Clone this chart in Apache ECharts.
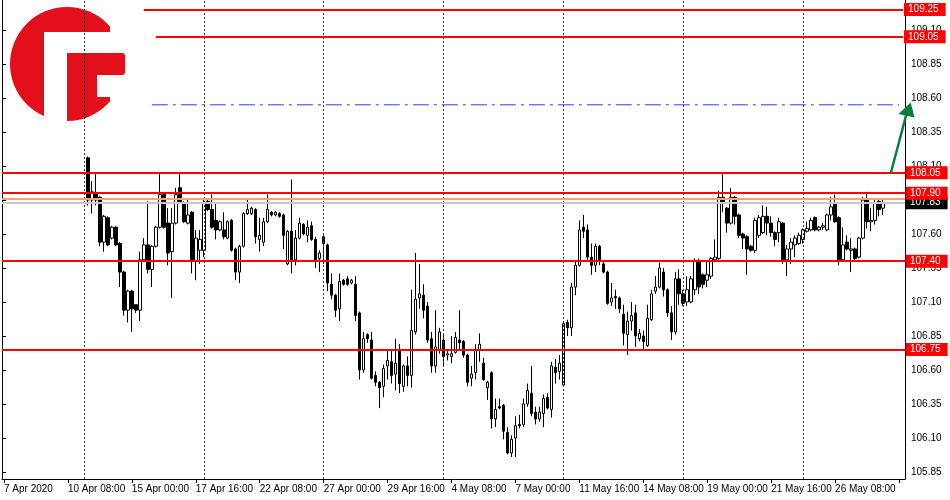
<!DOCTYPE html>
<html><head><meta charset="utf-8">
<script src="https://cdn.jsdelivr.net/npm/echarts@6/dist/echarts.min.js"></script>
<style>html,body{margin:0;padding:0;background:#fff}#c{width:950px;height:500px}</style>
</head><body><div id="c"></div>
<script>
// ---- data ----
const tickLabels = ['7 Apr 2020','10 Apr 08:00','15 Apr 00:00','17 Apr 16:00','22 Apr 08:00','27 Apr 00:00','29 Apr 16:00','4 May 08:00','7 May 00:00','11 May 16:00','14 May 08:00','19 May 00:00','21 May 16:00','26 May 08:00'];
const barsPerLabel = 16;
const barCount = 226;
const firstBar = 21;
const open = [108.16,107.85,107.90,107.87,107.54,107.72,107.57,107.65,107.53,107.32,
107.04,107.18,107.08,107.04,107.41,107.52,107.34,107.51,107.65,107.89,
107.68,107.47,107.68,107.94,107.83,107.68,107.76,107.40,107.48,107.48,
107.84,107.78,107.70,107.63,107.63,107.57,107.70,107.49,107.32,107.51,
107.75,107.75,107.78,107.56,107.54,107.69,107.76,107.74,107.75,107.74,
107.38,107.62,107.41,107.57,107.67,107.59,107.66,107.56,107.42,107.58,
107.52,107.23,107.15,107.05,107.26,107.27,107.24,107.23,107.02,106.60,
106.86,106.82,106.56,106.51,106.48,106.63,106.66,106.57,106.75,106.48,
106.63,106.56,106.88,107.13,107.15,107.07,106.83,106.63,106.75,106.82,
106.71,106.70,106.73,106.82,106.81,106.71,106.54,106.58,106.75,106.65,
106.47,106.58,106.24,106.33,106.34,106.14,105.99,106.10,106.20,106.20,
106.35,106.43,106.29,106.24,106.28,106.40,106.31,106.62,106.59,106.49,
106.95,106.91,107.21,107.37,107.65,107.63,107.43,107.37,107.51,107.38,
107.32,107.10,107.14,107.13,107.01,106.86,106.96,107.02,106.83,106.85,
106.78,106.97,107.18,107.21,107.32,107.19,107.02,106.88,107.27,107.16,
107.10,107.10,107.19,107.40,107.30,107.26,107.29,107.41,107.42,107.87,
107.79,107.68,107.87,107.74,107.60,107.58,107.51,107.48,107.59,107.61,
107.73,107.68,107.61,107.61,107.68,107.41,107.49,107.52,107.53,107.56,
107.62,107.63,107.72,107.63,107.65,107.63,107.74,107.83,107.72,107.41,
107.54,107.48,107.49,107.43,107.57,107.86,107.69,107.70,107.84,107.79];
const close = [107.85,107.91,107.85,107.54,107.73,107.52,107.65,107.52,107.32,107.04,
107.18,107.05,107.04,107.41,107.52,107.34,107.51,107.65,107.89,107.65,
107.46,107.68,107.89,107.83,107.69,107.74,107.40,107.57,107.56,107.83,
107.78,107.65,107.63,107.69,107.58,107.69,107.48,107.32,107.51,107.75,
107.78,107.79,107.58,107.59,107.69,107.78,107.74,107.76,107.73,107.59,
107.62,107.41,107.57,107.68,107.60,107.65,107.56,107.41,107.46,107.53,
107.24,107.15,107.04,107.25,107.23,107.23,107.26,107.00,106.60,106.83,
106.83,106.54,106.51,106.47,106.61,106.67,106.56,106.65,106.50,106.63,
106.56,106.89,107.12,107.16,107.04,106.82,106.63,106.77,106.88,106.70,
106.72,106.72,106.84,106.80,106.71,106.51,106.57,106.75,106.79,106.53,
106.51,106.24,106.31,106.32,106.15,105.99,106.09,106.19,106.19,106.35,
106.45,106.28,106.24,106.29,106.39,106.32,106.63,106.58,106.65,106.94,
106.91,107.21,107.37,107.63,107.62,107.43,107.37,107.51,107.40,107.32,
107.09,107.13,107.13,107.05,106.87,106.96,107.00,106.85,106.87,106.81,
106.98,107.16,107.21,107.35,107.19,107.02,106.88,107.27,107.16,107.09,
107.19,107.27,107.40,107.21,107.23,107.30,107.42,107.43,107.87,107.83,
107.68,107.87,107.73,107.59,107.57,107.49,107.48,107.70,107.72,107.73,
107.68,107.61,107.56,107.69,107.41,107.49,107.54,107.57,107.59,107.63,
107.64,107.70,107.63,107.65,107.66,107.74,107.80,107.69,107.41,107.52,
107.49,107.49,107.42,107.57,107.85,107.69,107.70,107.83,107.78,107.83];
const low = [107.81,107.75,107.81,107.51,107.47,107.51,107.56,107.51,107.21,107.00,
106.95,106.88,107.02,106.96,107.40,107.31,107.21,107.50,107.64,107.64,
107.37,107.13,107.67,107.82,107.68,107.67,107.31,107.26,107.38,107.43,
107.77,107.64,107.56,107.62,107.56,107.56,107.47,107.26,107.24,107.50,
107.74,107.74,107.53,107.47,107.51,107.68,107.73,107.73,107.72,107.49,
107.37,107.31,107.37,107.56,107.59,107.54,107.55,107.35,107.32,107.38,
107.18,107.12,106.99,106.96,107.22,107.22,107.23,106.96,106.53,106.58,
106.80,106.53,106.48,106.32,106.40,106.53,106.50,106.45,106.43,106.44,
106.48,106.47,106.86,107.05,106.98,106.80,106.58,106.58,106.72,106.63,
106.67,106.65,106.72,106.75,106.69,106.48,106.48,106.53,106.66,106.52,
106.38,106.17,106.18,106.31,106.09,105.98,105.96,105.96,106.17,106.18,
106.33,106.26,106.20,106.22,106.18,106.31,106.25,106.50,106.53,106.49,
106.85,106.85,107.15,107.36,107.57,107.41,107.30,107.32,107.37,107.31,
107.08,107.07,107.05,107.02,106.78,106.71,106.89,106.77,106.81,106.74,
106.77,106.96,107.16,107.20,107.14,106.99,106.82,106.86,107.08,107.07,
107.07,107.09,107.15,107.16,107.20,107.21,107.27,107.40,107.41,107.76,
107.61,107.67,107.67,107.57,107.49,107.30,107.47,107.46,107.57,107.60,
107.59,107.58,107.51,107.54,107.38,107.29,107.38,107.43,107.52,107.53,
107.61,107.62,107.62,107.62,107.63,107.62,107.70,107.68,107.37,107.40,
107.48,107.32,107.41,107.42,107.56,107.64,107.62,107.67,107.73,107.74];
const high = [108.17,107.99,108.04,107.88,107.74,107.73,107.66,107.66,107.54,107.33,
107.19,107.19,107.08,107.47,107.57,107.84,107.52,107.66,108.04,107.90,
107.79,107.79,107.94,108.04,107.84,107.85,107.77,107.63,107.63,107.85,
107.85,107.89,107.83,107.70,107.76,107.70,107.71,107.50,107.52,107.76,
107.86,107.80,107.79,107.72,107.72,107.89,107.77,107.77,107.76,107.75,
107.63,108.00,107.63,107.72,107.68,107.70,107.69,107.58,107.48,107.59,
107.53,107.31,107.16,107.31,107.27,107.29,107.27,107.29,107.03,106.88,
106.87,106.88,106.59,106.52,106.64,106.74,106.74,106.83,106.79,106.64,
106.70,107.19,107.46,107.38,107.23,107.10,106.88,107.04,106.91,106.86,
106.75,106.85,106.88,107.04,106.82,106.72,106.63,106.79,106.87,106.69,
106.52,106.59,106.39,106.39,106.35,106.18,106.12,106.26,106.27,106.39,
106.50,106.63,106.33,106.33,106.42,106.43,106.66,106.68,106.71,106.96,
106.97,107.24,107.40,107.70,107.74,107.67,107.53,107.53,107.52,107.40,
107.33,107.24,107.19,107.14,107.08,107.03,107.10,107.08,106.90,106.89,
107.08,107.19,107.29,107.39,107.35,107.20,107.07,107.32,107.34,107.19,
107.29,107.29,107.42,107.42,107.31,107.40,107.43,107.56,107.92,108.04,
107.80,107.94,107.88,107.75,107.61,107.59,107.52,107.72,107.74,107.81,
107.80,107.73,107.62,107.72,107.69,107.52,107.57,107.59,107.61,107.64,
107.69,107.72,107.73,107.66,107.68,107.75,107.87,107.89,107.73,107.65,
107.59,107.57,107.50,107.58,107.87,107.91,107.79,107.85,107.85,107.85];
const levels = [109.25, 109.05, 108.05, 107.90, 107.40, 106.75];
const levelStartBar = [35, 38, null, null, null, null];
const askPrice = 107.855;
const lastPrice = 107.83;
const targetPrice = 108.55;
const targetBars = [37, 224];
const gridBars = [20, 50, 80, 110, 140, 170, 200];
const yFirstTick = 105.85, yTickStep = 0.25;
const yMin = 105.7985, yMax = 109.3206;

// ---- build ----
const FONT = 'Liberation Sans';
const categories = Array.from({length: barCount}, (_, i) => i);
const candles = categories.map(i => {
  const j = i - firstBar;
  return (j >= 0 && j < open.length) ? [open[j], close[j], low[j], high[j]] : '-';
});
const tag = (txt, bg) => ({show: true, position: 'end', distance: 1, formatter: txt, color: '#fff',
  backgroundColor: bg, padding: [2, 7, 1, 4], fontSize: 10, fontFamily: FONT, lineHeight: 10});
const redStyle = {color: '#ff0000', width: 2, type: 'solid'};
const mlData = [];
gridBars.forEach(b => mlData.push({xAxis: b, lineStyle: {color: '#333', width: 1, type: [2, 2]}, label: {show: false}}));
mlData.push({yAxis: lastPrice, lineStyle: {color: '#c8c8c8', width: 2, type: 'solid'}, label: tag(lastPrice.toFixed(2), '#000')});
mlData.push({yAxis: askPrice, lineStyle: {color: '#f7a072', width: 2, type: 'solid'}, label: {show: false}});
levels.forEach((v, i) => {
  if (levelStartBar[i] === null) {
    mlData.push({yAxis: v, lineStyle: redStyle, label: tag(v.toFixed(2), '#ff0000')});
  } else {
    mlData.push([{coord: [levelStartBar[i], v], lineStyle: redStyle, label: tag(v.toFixed(2), '#ff0000')},
                 {coord: [barCount - 1, v], lineStyle: redStyle, label: tag(v.toFixed(2), '#ff0000')}]);
  }
});

const chart = echarts.init(document.getElementById('c'), null, {renderer: 'canvas'});
chart.setOption({
  animation: false,
  backgroundColor: '#fff',
  grid: [
    {left: 2, right: 45, top: 0, bottom: 21},
    {left: 2, right: 45, top: 0, bottom: 28}
  ],
  xAxis: [
    {type: 'category', gridIndex: 0, data: categories, boundaryGap: true,
     axisLine: {show: true, lineStyle: {color: '#000', width: 1}},
     axisTick: {show: true, alignWithLabel: true, interval: barsPerLabel - 1, length: 4, lineStyle: {color: '#000'}},
     axisLabel: {interval: barsPerLabel - 1, align: 'left', margin: 5, fontSize: 10, fontFamily: FONT, color: '#000',
       formatter: (v, idx) => (idx % barsPerLabel === 0 && tickLabels[idx / barsPerLabel]) ? tickLabels[idx / barsPerLabel] : ''},
     splitLine: {show: false}},
    {type: 'value', gridIndex: 1, show: false, min: 0, max: 1}
  ],
  yAxis: [
    {type: 'value', gridIndex: 0, position: 'right', min: yMin, max: yMax,
     axisLine: {show: true, lineStyle: {color: '#000', width: 1}}, axisTick: {show: false},
     axisLabel: {show: false}, splitLine: {show: false}},
    {type: 'value', gridIndex: 0, position: 'left', min: yMin, max: yMax,
     axisLine: {show: true, lineStyle: {color: '#000', width: 1}}, axisTick: {show: false},
     axisLabel: {show: false}, splitLine: {show: false}},
    {type: 'value', gridIndex: 1, position: 'right', min: 0, max: yMax - yFirstTick, interval: yTickStep,
     axisLine: {show: false}, axisTick: {show: true, length: 4, lineStyle: {color: '#000'}},
     axisLabel: {margin: 6, fontSize: 10, fontFamily: FONT, color: '#000', showMaxLabel: false,
       formatter: v => (v + yFirstTick).toFixed(2)},
     splitLine: {show: false}}
  ],
  series: [{
    type: 'line', xAxisIndex: 0, yAxisIndex: 0, z: 3, silent: true, symbol: 'none',
    data: [[targetBars[0], targetPrice], [targetBars[1], targetPrice]],
    lineStyle: {color: '#2f3dff', width: 1, type: [16, 5, 3, 5]}, itemStyle: {color: '#2f3dff'}
  }, {
    type: 'candlestick', xAxisIndex: 0, yAxisIndex: 0, data: candles, barWidth: 3,
    itemStyle: {color: '#ffffff', color0: '#000000', borderColor: '#000000', borderColor0: '#000000', borderWidth: 1},
    markLine: {symbol: ['none', 'none'], silent: true, animation: false, label: {show: false}, data: mlData}
  }],
  graphic: [
    {type: 'group', z: 100, children: [
      {type: 'rect', shape: {x: 0, y: 0, width: 136, height: 140}, style: {fill: '#fff'}},
      {type: 'circle', shape: {cx: 67, cy: 64, r: 57}, style: {fill: '#e3101c'}},
      {type: 'rect', shape: {x: 44, y: 32, width: 23, height: 100}, style: {fill: '#fff'}},
      {type: 'rect', shape: {x: 44, y: 32, width: 92, height: 21}, style: {fill: '#fff'}},
      {type: 'rect', shape: {x: 110, y: 0, width: 26, height: 53, r: [8, 0, 0, 0]}, style: {fill: '#fff'}},
      {type: 'rect', shape: {x: 67, y: 53, width: 58, height: 22, r: [0, 3, 3, 0]}, style: {fill: '#e3101c'}},
      {type: 'rect', shape: {x: 97, y: 75, width: 40, height: 22}, style: {fill: '#fff'}},
      {type: 'rect', shape: {x: 110, y: 97, width: 26, height: 40}, style: {fill: '#fff'}}
    ]},
    {type: 'line', z: 100, shape: {x1: 890.7, y1: 173.5, x2: 907.5, y2: 110}, style: {stroke: '#0a7d3c', lineWidth: 2.5}},
    {type: 'polygon', z: 100, shape: {points: [[910.7, 102.5], [898.5, 114], [914.5, 117.5]]}, style: {fill: '#0a7d3c'}}
  ]
});
</script>
</body></html>
